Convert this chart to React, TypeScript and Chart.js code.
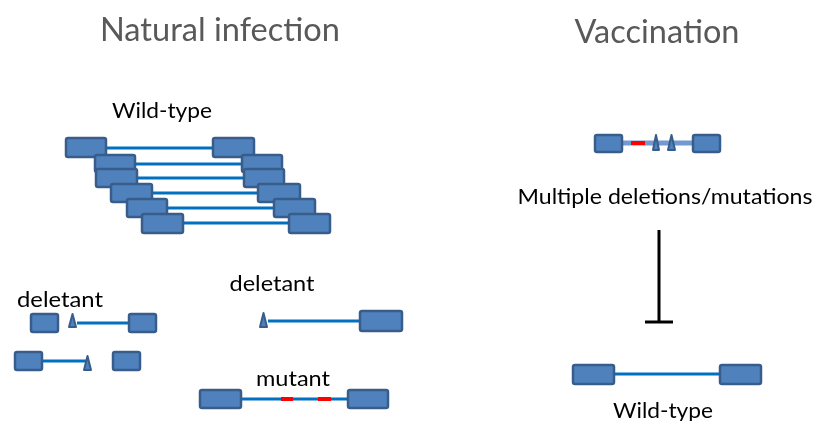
import React, { useEffect, useRef } from "react";
import { Chart, registerables } from "chart.js";
Chart.register(...registerables);

// Boxes: [x1, x2, y1, y2] in page pixels of the 824x421 diagram
const wildTypeLeftBoxes = [
  [65, 107, 137, 158],
  [94, 136, 154, 173],
  [95, 138, 168, 188],
  [110, 153, 183, 203],
  [126, 168, 198, 218],
  [141, 184, 213, 234],
];
const wildTypeRightBoxes = [
  [212, 255, 137, 158],
  [241, 283, 154, 173],
  [243, 285, 168, 188],
  [257, 301, 183, 203],
  [273, 316, 198, 218],
  [288, 331, 213, 234],
];
const wildTypeLineY = [148, 164, 178, 193, 208, 223];
const otherBoxes = [
  [30, 59, 313, 333],
  [128, 157, 313, 333],
  [14, 43, 351, 371],
  [112, 141, 351, 371],
  [359, 403, 310, 332],
  [199, 242, 389, 409],
  [347, 389, 389, 409],
  [594, 623, 134, 153],
  [692, 721, 134, 153],
  [572, 615, 364, 385],
  [719, 762, 364, 385],
];
// Triangles: [x1, x2, yTop, yBottom]
const triangles = [
  [68, 77, 313, 328],
  [83, 92, 355, 371],
  [259, 268, 312, 328],
  [652, 660, 134, 151],
  [667, 676, 134, 151],
];
// Blue connector lines: [x1, x2, y]
const blueLines = [
  [77, 128, 323],
  [43, 88, 361],
  [268, 360, 321],
  [242, 347, 399],
  [615, 719, 374],
];
const lightLine = [623, 692, 143];
// Red mutation marks: [x1, x2, y]
const redMarks = [
  [281, 293, 399],
  [318, 331, 399],
  [631, 645, 143],
];
// Inhibition bar
const inhibitStem = [659, 230, 322];
const inhibitBar = [645, 673, 322];
// Labels: [text, centerX, centerY, size, color]
const labels: [string, number, number, number, string][] = [
  ["Natural infection", 220, 31, 32, "#595959"],
  ["Vaccination", 657, 33, 32, "#595959"],
  ["Wild-type", 162, 111, 21, "#000000"],
  ["deletant", 60, 300, 21, "#000000"],
  ["deletant", 272, 284, 21, "#000000"],
  ["mutant", 293, 379, 21, "#000000"],
  ["Multiple deletions/mutations", 665, 197, 21, "#000000"],
  ["Wild-type", 663, 411, 21, "#000000"],
];
const labelWidths = [240, 165, 100, 86, 85, 74, 295, 100];

const BOX_FILL = "#4F81BD";
const BOX_STROKE = "#385D8A";
const LINE_BLUE = "#0070C0";

function seg(x1: number, x2: number, y1: number, y2: number) {
  return [
    { x: x1, y: y1 },
    { x: x2, y: y2 },
  ];
}

export default function App() {
  const ref = useRef<HTMLCanvasElement>(null);
  useEffect(() => {
    document.body.style.margin = "0";
    const datasets: any[] = [];
    const line = (data: any, color: string, width: number, order: number) =>
      datasets.push({
        type: "line",
        data,
        borderColor: color,
        borderWidth: width,
        pointRadius: 0,
        fill: false,
        tension: 0,
        borderCapStyle: "butt",
        order,
      });
    wildTypeLineY.forEach((y, i) =>
      line(seg(wildTypeLeftBoxes[i][1], wildTypeRightBoxes[i][0], y, y), LINE_BLUE, 3, 2)
    );
    blueLines.forEach((l) => line(seg(l[0], l[1], l[2], l[2]), LINE_BLUE, 3, 2));
    line(seg(lightLine[0], lightLine[1], lightLine[2], lightLine[2]), "#7399d2", 5, 2);
    redMarks.forEach((l) => line(seg(l[0], l[1], l[2], l[2]), "#FF0000", 4, 0));
    line(seg(inhibitStem[0], inhibitStem[0], inhibitStem[1], inhibitStem[2]), "#000000", 3, 1);
    line(seg(inhibitBar[0], inhibitBar[1], inhibitBar[2], inhibitBar[2]), "#000000", 3, 1);

    const shapes = {
      id: "shapes",
      afterDatasetsDraw(chart: any) {
        const ctx = chart.ctx;
        const sx = chart.scales.x;
        const sy = chart.scales.y;
        const px = (v: number) => sx.getPixelForValue(v);
        const py = (v: number) => sy.getPixelForValue(v);
        ctx.save();
        const drawBox = (b: number[]) => {
          const x1 = px(b[0]), x2 = px(b[1]), y1 = py(b[2]), y2 = py(b[3]);
          ctx.beginPath();
          ctx.roundRect(x1 + 1, y1 + 1, x2 - x1 - 2, y2 - y1 - 2, 2);
          ctx.fillStyle = BOX_FILL;
          ctx.fill();
          ctx.lineWidth = 2.5;
          ctx.strokeStyle = BOX_STROKE;
          ctx.stroke();
        };
        for (let i = 0; i < wildTypeLeftBoxes.length; i++) {
          drawBox(wildTypeLeftBoxes[i]);
          drawBox(wildTypeRightBoxes[i]);
        }
        otherBoxes.forEach(drawBox);
        triangles.forEach((t) => {
          const x1 = px(t[0]), x2 = px(t[1]), yt = py(t[2]), yb = py(t[3]);
          ctx.beginPath();
          ctx.moveTo((x1 + x2) / 2, yt + 1);
          ctx.lineTo(x2 - 1, yb - 1);
          ctx.lineTo(x1 + 1, yb - 1);
          ctx.closePath();
          ctx.fillStyle = BOX_FILL;
          ctx.fill();
          ctx.lineWidth = 2;
          ctx.strokeStyle = BOX_STROKE;
          ctx.lineJoin = "round";
          ctx.stroke();
        });
        ctx.textAlign = "center";
        ctx.textBaseline = "middle";
        labels.forEach((l, i) => {
          ctx.font = `${l[3]}px Lato`;
          const w = ctx.measureText(l[0]).width;
          const k = labelWidths[i] / w;
          ctx.save();
          ctx.translate(px(l[1]), py(l[2]));
          ctx.scale(k, 1);
          ctx.fillStyle = l[4];
          ctx.fillText(l[0], 0, 0);
          ctx.restore();
        });
        ctx.restore();
      },
    };

    let chart: Chart | null = null;
    let cancelled = false;
    const make = () => {
      if (cancelled || !ref.current) return;
      chart = new Chart(ref.current, {
        type: "scatter",
        data: { datasets },
        options: {
          animation: false,
          responsive: false,
          maintainAspectRatio: false,
          layout: { padding: 0 },
          plugins: { legend: { display: false }, tooltip: { enabled: false } },
          scales: {
            x: { type: "linear", min: 0, max: 824, display: false },
            y: { type: "linear", min: 0, max: 421, reverse: true, display: false },
          },
        },
        plugins: [shapes],
      });
    };
    const fonts: any = (document as any).fonts;
    if (fonts && fonts.load) {
      fonts.load("20px Lato").then(make, make);
    } else make();
    return () => {
      cancelled = true;
      if (chart) chart.destroy();
    };
  }, []);
  return (
    <div style={{ position: "fixed", left: 0, top: 0, width: 824, height: 421, background: "#fff" }}>
      <canvas ref={ref} width={824} height={421} style={{ width: 824, height: 421 }} />
    </div>
  );
}
